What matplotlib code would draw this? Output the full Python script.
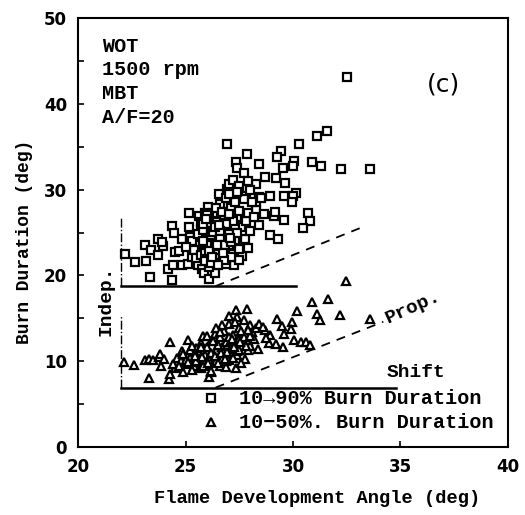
import matplotlib
matplotlib.use("Agg")
import matplotlib.pyplot as plt

# 10-90% burn duration (squares)
burn90_x = [32.5, 31.6, 31.1, 30.3, 26.95, 27.85, 29.45, 29.25, 28.4, 30.05, 30.9, 31.3, 32.25, 33.6,
            29.55, 30.0, 27.35, 27.4, 27.7, 28.7, 29.2, 29.65, 28.3, 27.9, 30.15, 30.0, 29.95, 29.6,
            28.95, 28.4, 30.7, 30.8, 30.45, 29.6, 29.1, 29.15, 28.95, 29.3,
            22.2, 22.65, 23.15, 23.1, 23.4, 23.7, 23.95, 23.7, 23.9, 23.35, 24.35, 24.45, 24.2, 24.35,
            24.4, 24.5, 24.7, 24.85, 25.15, 25.15, 25.2, 24.85, 25.1, 25.3, 25.65, 25.6, 25.75, 25.85,
            26.1, 26.35, 26.05, 26.55, 26.95, 27.0, 27.2, 27.5, 27.8, 28.3, 28.3, 28.65, 28.4, 27.75,
            27.65, 27.25, 26.9,
            25.5, 25.6, 25.7, 25.8, 25.9, 26.0, 26.0, 26.1, 26.2, 26.2, 26.3, 26.3, 26.4, 26.5, 26.5,
            26.6, 26.6, 26.7, 26.7, 26.8, 26.8, 26.9, 26.9, 27.0, 27.0, 27.1, 27.1, 27.2, 27.3, 27.3,
            27.4, 27.5, 27.5, 27.6, 27.7, 27.8, 27.9, 28.0, 28.1, 28.2, 27.4, 27.0, 26.4, 25.9, 25.4,
            25.3, 25.0, 26.0, 26.4, 27.5, 26.1, 27.9, 28.5, 28.0,
            25.5, 25.7, 25.9, 26.1, 26.3, 26.5, 26.7, 26.9, 27.1, 27.3, 25.6, 25.8, 26.0, 26.2, 26.4,
            26.6, 26.8, 27.0, 27.2, 27.4, 25.7, 25.9, 26.1, 26.3, 26.5, 26.7, 26.9, 27.1, 26.2, 26.4,
            26.6, 26.8, 26.0, 26.5, 27.0, 25.8,
            25.8, 26.1, 26.35, 26.6, 26.85, 27.1, 25.95, 26.25, 26.55, 26.75, 27.05, 26.45]
burn90_y = [43.1, 36.8, 36.2, 35.3, 35.3, 34.2, 34.5, 33.8, 33.0, 33.3, 33.2, 32.7, 32.4, 32.4,
            32.5, 32.8, 33.2, 32.5, 31.9, 31.5, 31.3, 30.8, 30.7, 31.0, 29.6, 29.3, 28.5, 29.3,
            29.2, 29.1, 27.3, 26.3, 25.5, 26.5, 26.9, 27.4, 24.7, 24.2,
            22.5, 21.6, 21.7, 23.6, 23.0, 22.4, 23.4, 24.2, 23.9, 19.8, 25.8, 24.9, 20.7, 19.5,
            21.2, 22.7, 22.9, 24.2, 27.3, 25.7, 24.5, 21.2, 21.3, 22.1, 26.9, 21.2, 20.8, 20.3,
            19.6, 20.3, 28.0, 29.5, 30.1, 30.6, 31.1, 30.4, 29.2, 28.2, 27.6, 27.2, 25.9, 24.2,
            22.3, 21.2, 21.3,
            23.5, 24.6, 25.4, 22.6, 23.9, 25.1, 22.0, 24.3, 26.5, 23.2, 27.3, 21.6, 24.9, 22.7, 26.0,
            23.8, 28.3, 25.5, 21.9, 27.0, 24.4, 22.9, 29.0, 26.2, 23.5, 27.8, 25.0, 22.5, 28.6, 24.1,
            26.7, 23.1, 27.5, 25.6, 28.9, 26.4, 27.3, 25.2, 28.5, 26.8, 29.7, 29.5, 27.9, 27.3, 23.0,
            24.0, 23.3, 26.1, 22.3, 21.8, 21.0, 23.2, 29.0, 30.0,
            22.0, 22.4, 22.9, 23.3, 23.7, 24.1, 24.6, 25.0, 25.4, 25.9, 24.8, 25.3, 23.5, 24.7, 26.2,
            22.4, 23.2, 24.8, 26.4, 24.9, 26.2, 21.7, 26.8, 25.1, 23.0, 27.4, 26.0, 22.2, 21.4, 23.4,
            25.2, 21.8, 27.0, 21.2, 27.2, 26.0,
            24.0, 22.8, 25.6, 24.3, 23.6, 23.9, 26.6, 22.1, 25.9, 22.6, 24.4, 23.6]

# 10-50% burn duration (triangles)
burn50_x = [32.45, 31.65, 30.9, 30.2, 31.1, 31.25, 32.2, 33.6, 29.25, 29.5, 29.95, 29.9, 29.6, 30.05,
            30.35, 30.6, 30.8, 29.55, 29.2, 28.9, 28.95, 28.7, 28.75, 28.35, 27.85, 27.35, 27.4,
            22.15, 22.6, 23.1, 23.3, 23.5, 23.75, 23.8, 23.3, 23.85, 24.25, 24.3, 24.5, 24.6, 24.9,
            25.0, 25.2, 25.45, 26.1, 26.2, 25.1, 24.3, 25.7, 24.85, 26.35, 27.35, 27.75, 27.9,
            25.4, 25.6, 25.7, 25.8, 25.9, 26.0, 26.0, 26.1, 26.2, 26.3, 26.4, 26.5, 26.6, 26.6, 26.7,
            26.8, 26.8, 26.9, 27.0, 27.0, 27.1, 27.2, 27.2, 27.3, 27.4, 27.5, 27.5, 27.6, 27.7, 27.8,
            27.9, 28.0, 28.1, 28.2, 28.3, 28.4, 27.0, 26.7, 26.4, 25.8, 25.5, 25.2, 24.8, 24.4, 24.0,
            26.2, 26.9, 27.6, 28.6, 28.0,
            24.7, 25.0, 25.3, 25.6, 25.9, 26.2, 26.5, 26.8, 27.1, 27.4, 27.7, 28.0, 24.9, 25.2, 25.5,
            25.8, 26.1, 26.4, 26.7, 27.0, 27.3, 27.6, 27.9, 25.3, 25.7, 26.3, 26.9, 27.5, 26.0, 26.6,
            27.2, 27.8,
            25.1, 25.45, 25.75, 26.05, 26.35, 26.65, 26.95, 27.25, 27.55, 26.5, 26.85, 27.15]
burn50_y = [19.3, 17.2, 16.9, 15.9, 15.5, 14.8, 15.4, 14.9, 14.9, 14.1, 14.6, 13.8, 13.2, 12.5,
            12.2, 12.2, 11.9, 11.7, 12.0, 12.1, 13.1, 13.6, 12.7, 11.4, 16.1, 16.0, 15.1,
            9.9, 9.6, 10.1, 10.3, 10.2, 10.5, 10.8, 8.1, 9.5, 7.9, 8.5, 9.2, 10.4, 8.7,
            9.7, 9.8, 10.9, 8.2, 8.7, 12.5, 12.2, 12.1, 11.2, 13.2, 9.2, 10.3, 11.3,
            9.5, 10.3, 9.2, 11.0, 10.0, 11.7, 9.6, 10.6, 12.3, 9.9, 11.2, 10.4, 12.8, 9.5, 11.6,
            13.5, 10.8, 12.2, 14.3, 10.1, 11.4, 13.0, 12.0, 14.6, 10.7, 12.6, 13.9, 11.8, 14.8, 13.0,
            12.3, 14.2, 13.4, 12.6, 13.9, 14.3, 15.3, 14.2, 13.9, 12.9, 11.5, 10.4, 10.0, 9.7, 10.3,
            8.9, 9.3, 9.8, 14.0, 11.8,
            9.4, 10.2, 9.0, 9.9, 10.7, 11.0, 11.9, 11.1, 12.5, 11.2, 12.8, 12.9, 10.8, 11.3, 10.0,
            9.4, 10.1, 10.0, 10.3, 12.8, 12.0, 13.5, 13.6, 11.8, 11.7, 12.4, 10.0, 11.3, 12.9, 13.4,
            10.4, 11.8,
            9.9, 10.6, 10.5, 9.8, 10.6, 10.9, 11.1, 11.7, 12.2, 9.8, 10.3, 12.6]

# guide lines drawn on the chart: (x0, x1, y0, y1)
base_upper = (22.02, 30.15, 18.75, 18.75)
base_lower = (22.02, 34.8, 6.93, 6.93)
indep_upper = (22.02, 22.02, 18.75, 26.9)
indep_lower = (22.02, 22.02, 6.93, 15.4)
prop_upper = (26.4, 33.1, 18.75, 25.5)
prop_lower = (26.4, 34.2, 6.93, 14.6)

font = 'Liberation Mono'

fig = plt.figure(figsize=(5.25, 5.15), dpi=100)
ax = fig.add_axes([0.1486, 0.132, 0.819, 0.833])

mk = dict(linestyle='none', markerfacecolor='white', markeredgecolor='black',
          markeredgewidth=1.6, markersize=5.3)
ax.plot(burn90_x, burn90_y, marker='s', **mk)
ax.plot(burn50_x, burn50_y, marker='^', **mk)

for seg in (base_upper, base_lower):
    ax.plot(seg[:2], seg[2:], color='black', lw=1.8)
for seg in (indep_upper, indep_lower):
    ax.plot(seg[:2], seg[2:], color='black', lw=1.0, linestyle='-.')
for seg in (prop_upper, prop_lower):
    ax.plot(seg[:2], seg[2:], color='black', lw=1.3, linestyle=(0, (5, 4)))

txt = dict(family=font, fontweight='bold')
ax.text(21.3, 17.1, 'Indep.', rotation=90, ha='center', va='center', fontsize=14, **txt)
ax.text(35.6, 16.3, 'Prop.', rotation=24, ha='center', va='center', fontsize=14, **txt)
ax.text(35.7, 8.7, 'Shift', ha='center', va='center', fontsize=14, **txt)
ax.text(37.0, 42.2, '(c)', ha='center', va='center', fontsize=18, family='DejaVu Sans')

info = ['WOT', '1500 rpm', 'MBT', 'A/F=20']
for i, s in enumerate(info):
    ax.text(21.1, 46.7 - i * 2.75, s, ha='left', va='center', fontsize=14.5, **txt)

# legend drawn by hand like the original
ax.plot([26.2], [5.7], marker='s', **mk)
ax.plot([26.2], [2.9], marker='^', **mk)
ax.text(27.5, 5.7, '10\u219290% Burn Duration', ha='left', va='center', fontsize=14.5, **txt)
ax.text(27.5, 2.9, '10\u221250%. Burn Duration', ha='left', va='center', fontsize=14.5, **txt)

ax.set_xlim(20, 40)
ax.set_ylim(0, 50)
ax.set_xticks([20, 25, 30, 35, 40])
ax.set_yticks([0, 5, 10, 15, 20, 25, 30, 35, 40, 45, 50])
ax.set_yticklabels(['0', '', '10', '', '20', '', '30', '', '40', '', '50'])
ax.tick_params(direction='in', length=4, width=1.2, labelsize=12, pad=8)
for lab in ax.get_xticklabels() + ax.get_yticklabels():
    lab.set_family('DejaVu Sans')
    lab.set_fontweight('bold')
for sp in ax.spines.values():
    sp.set_linewidth(1.5)

ax.set_xlabel('Flame Development Angle (deg)', fontsize=13.5, x=0.556, labelpad=10, **txt)
ax.set_ylabel('Burn Duration (deg)', fontsize=13, y=0.478, labelpad=8, **txt)

fig.savefig('out.png', dpi=100)
